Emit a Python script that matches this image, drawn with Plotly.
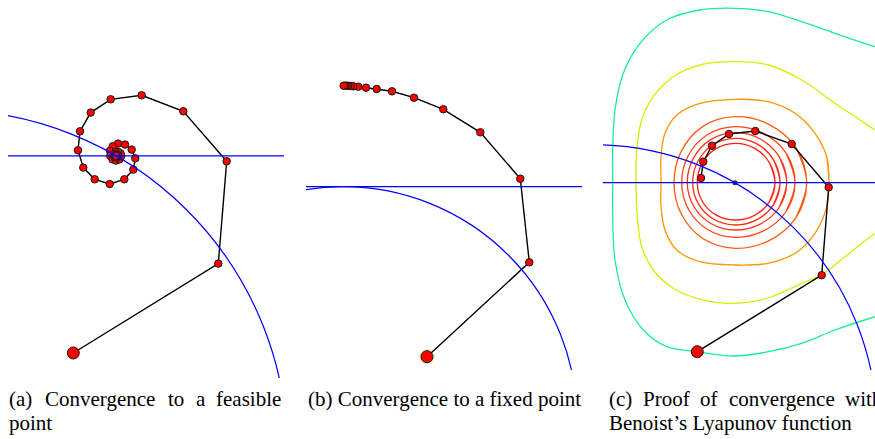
import plotly.graph_objects as go

# ---------------- data (units: one unit ~ one pixel, origin at the feasible / fixed point, y up)
# Panel (a): Douglas-Rachford iterates spiralling to the feasible point
a_x = [-42.7, 102.3, 110.7, 67.3, 25.7, -5.3, -25.3, -36.0, -38.0, -32.7, -21.3, -6.3, 8.3, 17.3,
       19.3, 15.7, 9.0, 2.0, -3.3, -6.0, -5.7, -3.5, 0.0, 3.5, 5.0, 4.5, 2.0, -0.5, -2.0, -1.5,
       0.5, 2.0, 1.5, 0.0, -0.4, 0.5, 0.6, 0.1, 0.0]
a_y = [-197.2, -107.8, -5.5, 44.5, 60.5, 56.5, 43.2, 24.5, 5.5, -11.8, -23.5, -28.2, -23.5, -13.8,
       -2.5, 6.2, 11.2, 12.2, 9.5, 5.0, 0.0, -3.5, -4.8, -3.5, -0.5, 2.5, 4.0, 3.5, 1.5, -1.0,
       -1.8, -0.5, 1.0, 1.0, -0.1, -0.5, 0.3, 0.4, 0.0]
a_circle = {"cx": -171.5, "cy": -297.0, "r": 343.0}

# Panel (b): iterates converging to a fixed point (tangent line)
b_x = [84.0, 186.3, 177.3, 137.3, 100.3, 71.0, 49.0, 33.7, 23.0, 15.3, 10.3, 7.7, 5.3, 3.5, 2.0, 0.7]
b_y = [-170.0, -75.6, 8.0, 54.4, 77.4, 89.0, 95.4, 97.7, 99.0, 100.0, 100.4, 100.7, 100.9, 101.0, 101.0, 101.0]
b_circle = {"cx": 0.0, "cy": -234.0, "r": 234.0}

# Panel (c): iterates with level sets of Benoist's Lyapunov function
c_x = [-37.7, 86.7, 93.7, 56.7, 20.3, -6.0, -23.0, -31.7, -34.0]
c_y = [-169.0, -92.5, -4.6, 38.7, 51.7, 48.7, 37.0, 21.0, 4.7]
c_circle = {"cx": -142.0, "cy": -246.0, "r": 284.0}

ring1_x = [40.0, 34.5, 19.8, 0.0, -19.5, -33.0, -37.7, -32.6, -18.7, 0.0, 19.0, 34.0]
ring1_y = [0.0, 19.9, 34.3, 39.4, 33.8, 19.1, 0.0, -18.8, -32.4, -37.3, -32.9, -19.7]
ring2_x = [45.0, 38.8, 22.3, 0.0, -21.9, -37.1, -42.3, -36.6, -21.2, 0.0, 21.5, 38.4]
ring2_y = [0.0, 22.4, 38.6, 44.4, 38.0, 21.4, 0.0, -21.2, -36.6, -42.3, -37.2, -22.2]
ring3_x = [51.7, 44.4, 25.2, 0.0, -24.7, -41.8, -47.7, -41.2, -23.7, 0.0, 24.2, 43.8]
ring3_y = [0.0, 25.6, 43.7, 50.0, 42.8, 24.1, 0.0, -23.8, -41.0, -47.3, -41.9, -25.3]
ring4_x = [60.0, 51.1, 28.5, 0.0, -27.7, -46.8, -53.3, -46.4, -27.1, 0.0, 28.0, 50.8]
ring4_y = [0.0, 29.5, 49.4, 56.0, 47.9, 27.0, 0.0, -26.8, -47.0, -54.6, -48.5, -29.3]
ring5_x = [71.7, 60.9, 33.7, 0.0, -32.4, -53.9, -61.0, -53.8, -32.2, 0.0, 33.6, 60.8]
ring5_y = [0.0, 35.1, 58.4, 66.0, 56.1, 31.1, 0.0, -31.1, -55.8, -65.6, -58.1, -35.1]
orange_x = [94.0, 91.7, 80.0, 60.0, 33.0, 0.0, -35.0, -58.3, -70.0, -74.0, -74.0, -74.0, -70.0,
            -58.3, -35.0, 0.0, 33.0, 60.0, 80.0, 91.7]
orange_y = [0.0, 26.0, 49.4, 69.4, 81.0, 83.4, 79.4, 67.7, 49.4, 26.0, 0.0, -24.0, -47.3,
            -67.3, -79.0, -82.3, -80.6, -70.6, -50.6, -24.0]
yellow_x = [150.0, 140.0, 100.0, 66.7, 33.3, 0.0, -35.0, -61.7, -81.7, -93.3, -98.3, -99.0, -97.7,
            -93.3, -81.7, -61.7, -35.0, 0.0, 33.0, 66.7, 86.7, 110.0, 140.0, 150.0]
yellow_y = [46.0, 52.7, 79.4, 102.7, 117.7, 121.0, 117.7, 106.0, 86.0, 62.7, 32.7, 0.0, -34.0,
            -64.0, -87.3, -105.6, -116.6, -120.6, -115.3, -100.6, -92.0, -74.0, -50.6, -44.0]
green_x = [150.0, 140.0, 100.0, 66.7, 33.3, 0.0, -35.0, -68.3, -95.0, -111.7, -120.0, -122.3, -122.3,
           -122.3, -120.0, -110.0, -91.7, -68.3, -37.7, 0.0, 33.3, 66.7, 100.0, 140.0, 150.0]
green_y = [133.0, 136.0, 149.4, 161.0, 171.0, 174.4, 172.7, 162.7, 139.4, 109.4, 72.7, 32.7, 0.0,
           -34.0, -77.3, -117.3, -147.3, -164.0, -169.0, -173.3, -169.0, -160.6, -147.3, -134.0, -131.0]

captions_a = ["(a)", "Convergence", "to", "a", "feasible"]
caption_a2 = "point"
caption_b = "(b) Convergence to a fixed point"
captions_c = ["(c)", "Proof", "of", "convergence", "with"]
caption_c2 = "Benoist’s Lyapunov function"

# ---------------- figure
W, H = 875, 439
fig = go.Figure()

RED = "#ff0000"
EDGE = "#1a1a1a"


def path_traces(xs, ys, xa, ya):
    fig.add_trace(go.Scatter(x=xs, y=ys, mode="lines+markers", xaxis=xa, yaxis=ya,
                             line=dict(color="black", width=1.4),
                             marker=dict(size=7.5, color=RED, line=dict(color=EDGE, width=1)),
                             hoverinfo="skip", showlegend=False))
    fig.add_trace(go.Scatter(x=xs[:1], y=ys[:1], mode="markers", xaxis=xa, yaxis=ya,
                             marker=dict(size=12, color=RED, line=dict(color=EDGE, width=1)),
                             hoverinfo="skip", showlegend=False))


def closed(xs, ys):
    return xs[-1:] + xs + xs[:2], ys[-1:] + ys + ys[:2]


# contours of panel (c)
contours = [
    (green_x, green_y, "#19ef8f", False),
    (yellow_x, yellow_y, "#d6f000", False),
    (orange_x, orange_y, "#ff9500", True),
    (ring5_x, ring5_y, "#ff5a10", True),
    (ring4_x, ring4_y, "#ff4515", True),
    (ring3_x, ring3_y, "#ff3518", True),
    (ring2_x, ring2_y, "#ff2a18", True),
    (ring1_x, ring1_y, "#ff2015", True),
]
for xs, ys, col, is_closed in contours:
    if is_closed:
        xs, ys = closed(xs, ys)
    fig.add_trace(go.Scatter(x=xs, y=ys, mode="lines", xaxis="x3", yaxis="y3",
                             line=dict(color=col, width=1.3, shape="spline", smoothing=1.0),
                             hoverinfo="skip", showlegend=False))

# halo around start point of panel (b)
fig.add_trace(go.Scatter(x=b_x[:1], y=b_y[:1], mode="markers", xaxis="x2", yaxis="y2",
                         marker=dict(size=16, color="#f3f3c6"), hoverinfo="skip", showlegend=False))

path_traces(a_x, a_y, "x", "y")
path_traces(b_x, b_y, "x2", "y2")
path_traces(c_x, c_y, "x3", "y3")

# centre dot (feasible point) in panel (c)
fig.add_trace(go.Scatter(x=[0], y=[0], mode="markers", xaxis="x3", yaxis="y3",
                         marker=dict(size=5, color="#303040"), hoverinfo="skip", showlegend=False))

# blue sets: circle + horizontal line
BLUE = "#0000ff"
shapes = []
for circ, sfx in [(a_circle, ""), (b_circle, "2"), (c_circle, "3")]:
    shapes.append(dict(type="circle", xref="x" + sfx, yref="y" + sfx,
                       x0=circ["cx"] - circ["r"], x1=circ["cx"] + circ["r"],
                       y0=circ["cy"] - circ["r"], y1=circ["cy"] + circ["r"],
                       line=dict(color=BLUE, width=1.2), layer="above"))
    shapes.append(dict(type="line", xref="x" + sfx + " domain", yref="y" + sfx,
                       x0=0, x1=1, y0=0, y1=0, line=dict(color=BLUE, width=1.2), layer="above"))

# axes: each panel measured in pixel-sized units
def ax(domain, rng, anchor):
    return dict(domain=domain, range=rng, visible=False, showgrid=False, zeroline=False,
                fixedrange=True, anchor=anchor)

fig.update_layout(
    width=W, height=H, margin=dict(l=0, r=0, t=0, b=0),
    paper_bgcolor="white", plot_bgcolor="white", showlegend=False,
    xaxis=ax([8 / W, 284 / W], [-108, 168], "y"),
    yaxis=ax([(H - 378) / H, 1], [-222.2, 155.8], "x"),
    xaxis2=ax([306 / W, 582 / W], [-37, 239], "y2"),
    yaxis2=ax([(H - 370) / H, 1], [-183.3, 186.7], "x2"),
    xaxis3=ax([603 / W, 1], [-132, 140], "y3"),
    yaxis3=ax([(H - 370) / H, 1], [-187.3, 182.7], "x3"),
    shapes=shapes,
)

FONT = dict(family="Liberation Serif, Times New Roman, serif", size=21, color="black")
y1 = 1 - 399 / H
y2 = 1 - 423 / H
ann = []


def word(text, px, yy, anchor="left"):
    ann.append(dict(text=text, x=px / W, y=yy, xref="paper", yref="paper", xanchor=anchor,
                    yanchor="middle", showarrow=False, font=FONT, borderpad=0))


for t, px in zip(captions_a, [8, 43.6, 166.6, 195.2, 282]):
    word(t, px, y1, "right" if t == captions_a[-1] else "left")
word(caption_a2, 8, y2)
word(caption_b, 307, y1)
for t, px in zip(captions_c, [608, 642, 699.4, 727.6, 844.4]):
    word(t, px, y1)
word(caption_c2, 608, y2)
fig.update_layout(annotations=ann)

fig.write_html(
    "out.html",
    config={"displayModeBar": False},
    post_script="document.body.style.margin='0';document.body.style.overflow='hidden';",
)
